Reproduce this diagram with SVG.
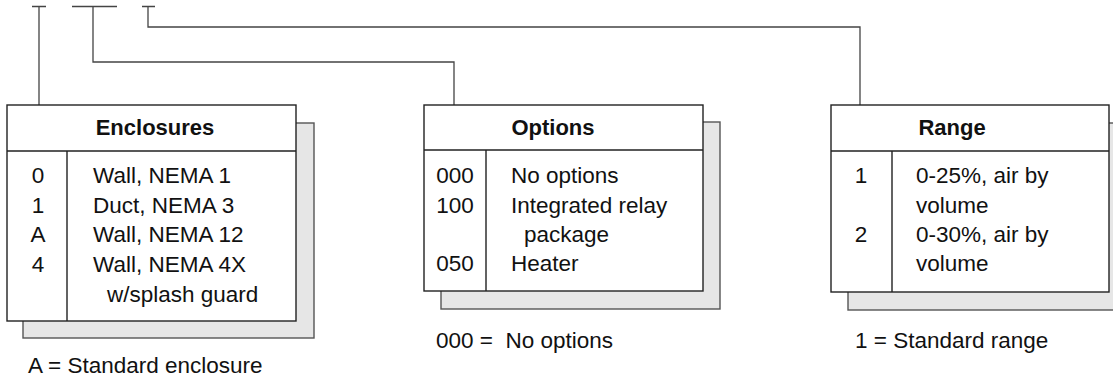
<svg xmlns="http://www.w3.org/2000/svg" width="1113" height="385" viewBox="0 0 1113 385">
<style>
.box{fill:#fff;stroke:#222;stroke-width:1.4}
.shadow{fill:#e6e6e6;stroke:#555;stroke-width:1.4}
.div{stroke:#222;stroke-width:1.4;fill:none}
.conn{stroke:#444;stroke-width:1.3;fill:none}
text{font-family:"Liberation Sans",Arial,sans-serif;font-size:22.5px;fill:#111;white-space:pre}
.title{font-weight:bold;text-anchor:middle;font-size:22px}
.num{text-anchor:middle}
</style>
<rect width="1113" height="385" fill="#fff"/>
<g id="connectors">
<path class="conn" d="M32,6.5H46M39,6.5V105"/>
<path class="conn" d="M72,6.5H117M93,6.5V62H454V105"/>
<path class="conn" d="M142,6.5H155M148,6.5V27H860V105"/>
</g>
<g id="enclosures">
<rect class="shadow" x="23" y="123" width="291" height="215"/>
<rect class="box" x="7" y="105" width="289" height="216"/>
<path class="div" d="M7,151H296M67,151V321"/>
<text class="title" x="155" y="135">Enclosures</text>
<text class="num" x="38" y="183">0</text>
<text class="num" x="38" y="213">1</text>
<text class="num" x="38" y="242">A</text>
<text class="num" x="38" y="272">4</text>
<text x="93" y="183">Wall, NEMA 1</text>
<text x="93" y="213">Duct, NEMA 3</text>
<text x="93" y="242">Wall, NEMA 12</text>
<text x="93" y="272">Wall, NEMA 4X</text>
<text x="107" y="302">w/splash guard</text>
<text x="28" y="373">A = Standard enclosure</text>
</g>
<g id="options">
<rect class="shadow" x="441" y="122" width="279" height="187"/>
<rect class="box" x="424" y="105" width="279" height="186"/>
<path class="div" d="M424,150H703M486,150V291"/>
<text class="title" x="553" y="135">Options</text>
<text class="num" x="455" y="183">000</text>
<text class="num" x="455" y="213">100</text>
<text class="num" x="455" y="271">050</text>
<text x="511" y="183">No options</text>
<text x="511" y="213">Integrated relay</text>
<text x="524" y="242">package</text>
<text x="511" y="271">Heater</text>
<text x="436" y="348">000 =  No options</text>
</g>
<g id="range">
<rect class="shadow" x="848" y="123" width="280" height="187"/>
<rect class="box" x="831" y="105" width="278" height="187"/>
<path class="div" d="M831,151H1109M892,151V292"/>
<text class="title" x="952" y="135">Range</text>
<text class="num" x="861" y="183">1</text>
<text class="num" x="861" y="242">2</text>
<text x="916" y="183">0-25%, air by</text>
<text x="916" y="213">volume</text>
<text x="916" y="242">0-30%, air by</text>
<text x="916" y="271">volume</text>
<text x="855" y="348">1 = Standard range</text>
</g>
</svg>
